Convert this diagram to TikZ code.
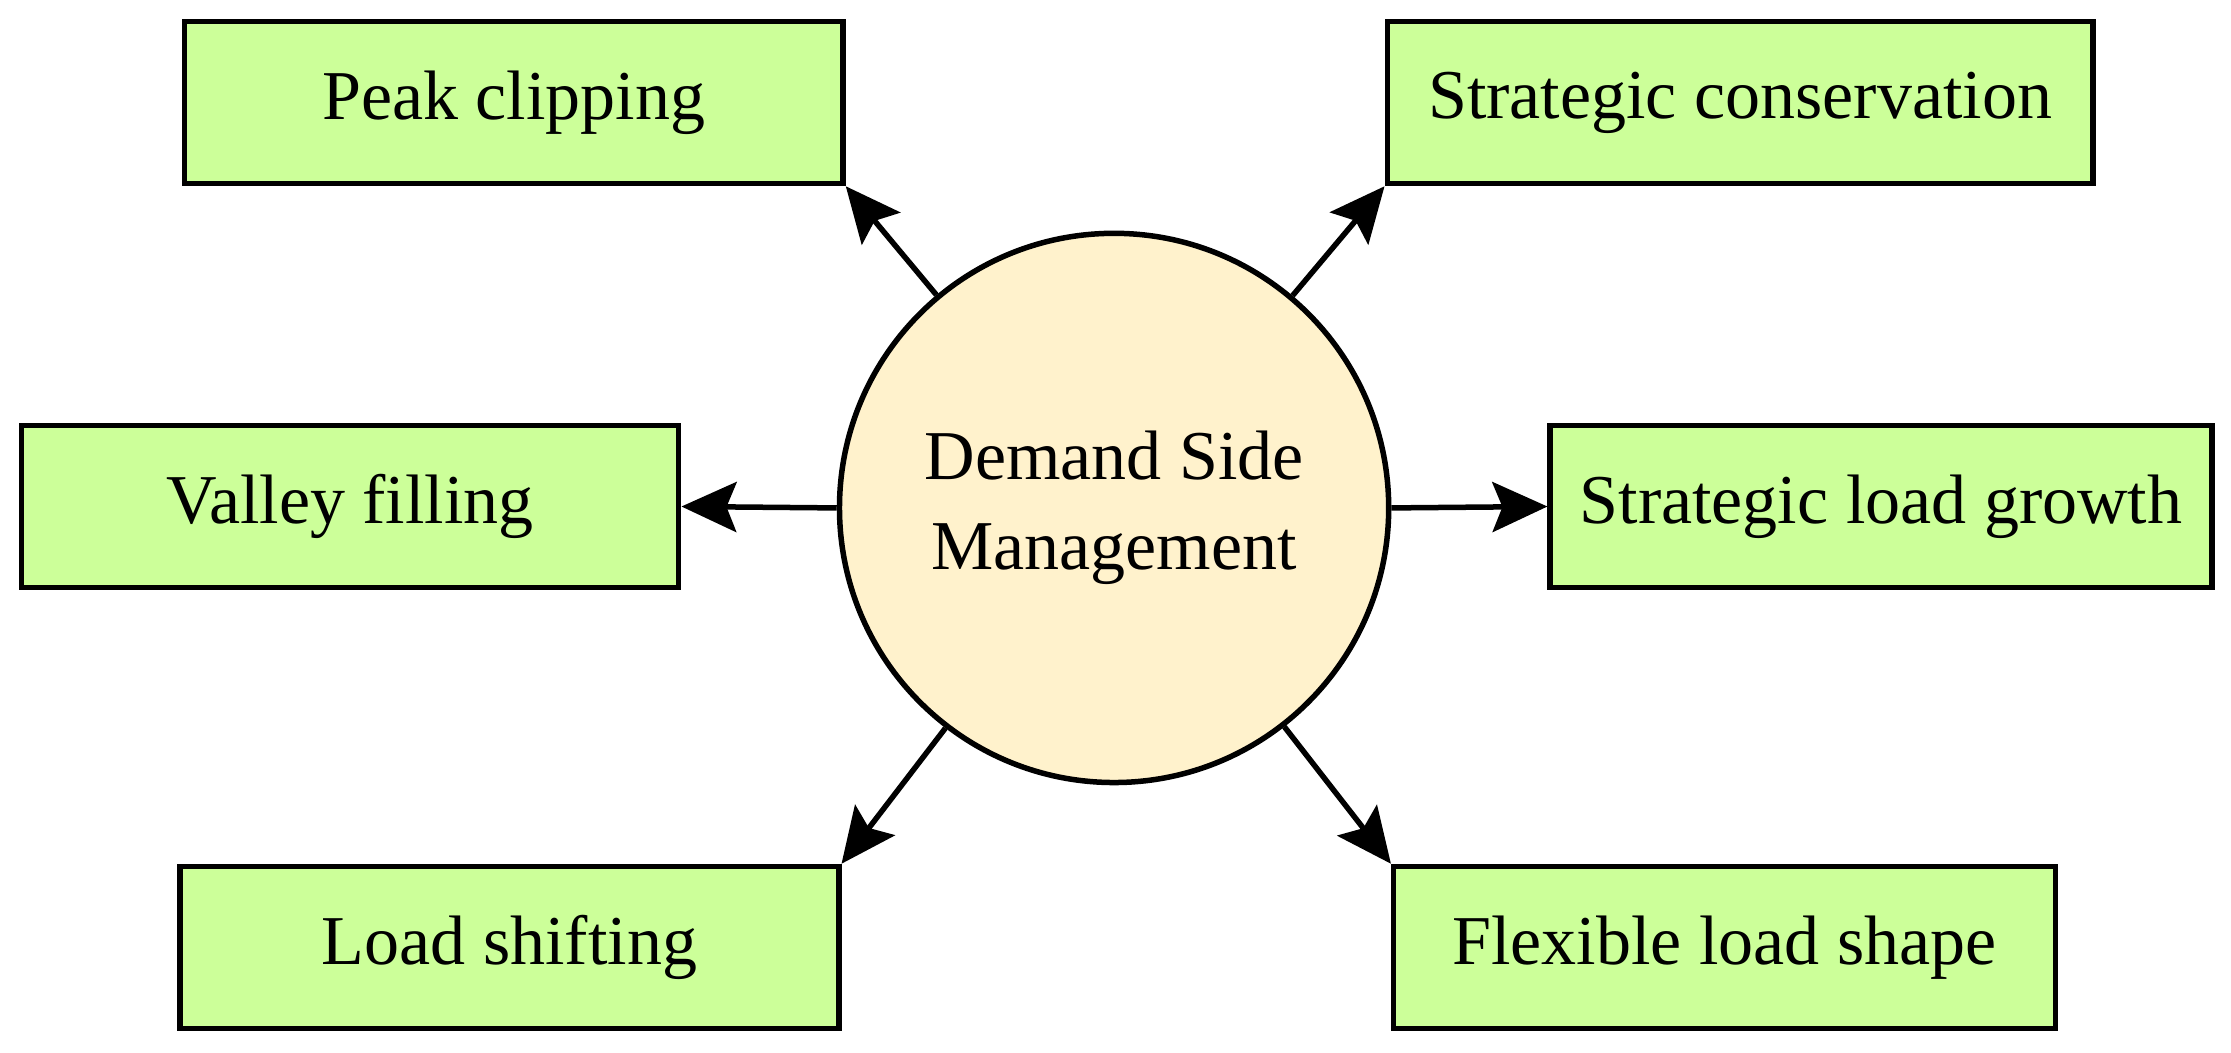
\documentclass[tikz,border=0pt]{standalone}
\usepackage{fontspec}
\setmainfont{Liberation Serif}
\usetikzlibrary{positioning, arrows.meta}
\definecolor{boxgreen}{RGB}{204,255,153}
\definecolor{circfill}{RGB}{255,242,204}
\begin{document}
\begin{tikzpicture}[
  box/.style={rectangle, draw=black, line width=1.1pt, fill=boxgreen, minimum height=1.14cm, font=\fontsize{14}{16}\selectfont},
  arr/.style={line width=1.1pt, -{Stealth[length=11pt,width=10pt,inset=2pt]}}
]
\useasboundingbox (0,0) rectangle (15.68,7.40);

\node[circle, draw=black, line width=1.1pt, fill=circfill, minimum size=3.86cm, align=center, font=\fontsize{14}{18}\selectfont] (dsm) at (7.83,3.83) {Demand Side\\Management};

\node[box, minimum width=4.63cm] (peak) at (3.61,6.68) {Peak clipping};
\node[box, minimum width=4.96cm] (cons) at (12.23,6.68) {Strategic conservation};
\node[box, minimum width=4.62cm] (valley) at (2.46,3.84) {Valley filling};
\node[box, minimum width=4.65cm] (growth) at (13.22,3.84) {Strategic load growth};
\node[box, minimum width=4.63cm] (shift) at (3.58,0.74) {Load shifting};
\node[box, minimum width=4.65cm] (flex) at (12.12,0.74) {Flexible load shape};

\draw[arr] (dsm) -- (peak.south east);
\draw[arr] (dsm) -- (cons.south west);
\draw[arr] (dsm.west) -- (valley.east);
\draw[arr] (dsm.east) -- (growth.west);
\draw[arr] (dsm) -- (shift.north east);
\draw[arr] (dsm) -- (flex.north west);

\end{tikzpicture}
\end{document}
